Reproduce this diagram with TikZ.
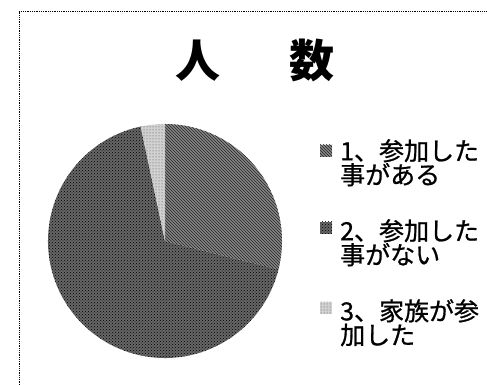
\documentclass[tikz,border=0pt]{standalone}
\usepackage{fontspec}
\usepackage{xcolor}
\usepackage{tikz}
\usetikzlibrary{patterns}
\newfontfamily\jpfont{Noto Sans CJK JP}
\newfontfamily\jplegfont{Noto Sans CJK JP}[FakeBold=0.8]

\begin{document}
\begin{tikzpicture}[x=1pt,y=1pt,
	legtext/.style={anchor=north west,inner sep=0pt,align=left,font=\jplegfont\fontsize{25}{24}\selectfont},
	legbox/.style={minimum size=12pt,inner sep=0pt},
	sliceone/.style={preaction={fill=black!48},pattern=north west lines,pattern color=black!85},
	slicetwo/.style={preaction={fill=black!60},pattern=crosshatch dots,pattern color=black},
	slicethree/.style={preaction={fill=black!18},pattern=dots,pattern color=black!70}]
	\useasboundingbox (0,0) rectangle (487,385);
	\draw[densely dotted,thick] (19,0) -- (19,374) -- (487,374);

	\node[font=\jpfont\bfseries\fontsize{45}{45}\selectfont] (title) at (255,325) {人\hspace{70pt}数};

	% pie
	\coordinate (pc) at (165,144);
	\fill[slicetwo] (pc) -- ++(-14:117) arc[start angle=-14,end angle=-258,radius=117] -- cycle;
	\fill[sliceone] (pc) -- ++(90:117) arc[start angle=90,end angle=-14,radius=117] -- cycle;
	\fill[slicethree] (pc) -- ++(90:117) arc[start angle=90,end angle=102,radius=117] -- cycle;

	% legend
	\node[legbox,sliceone] (key1) at (326,234) {};
	\node[legtext] (lab1) at (340,246) {1、参加した\\事がある};
	\node[legbox,slicetwo] (key2) at (326,157) {};
	\node[legtext] (lab2) at (340,166) {2、参加した\\事がない};
	\node[legbox,slicethree] (key3) at (326,77) {};
	\node[legtext] (lab3) at (340,86) {3、家族が参\\加した};
\end{tikzpicture}
\end{document}
